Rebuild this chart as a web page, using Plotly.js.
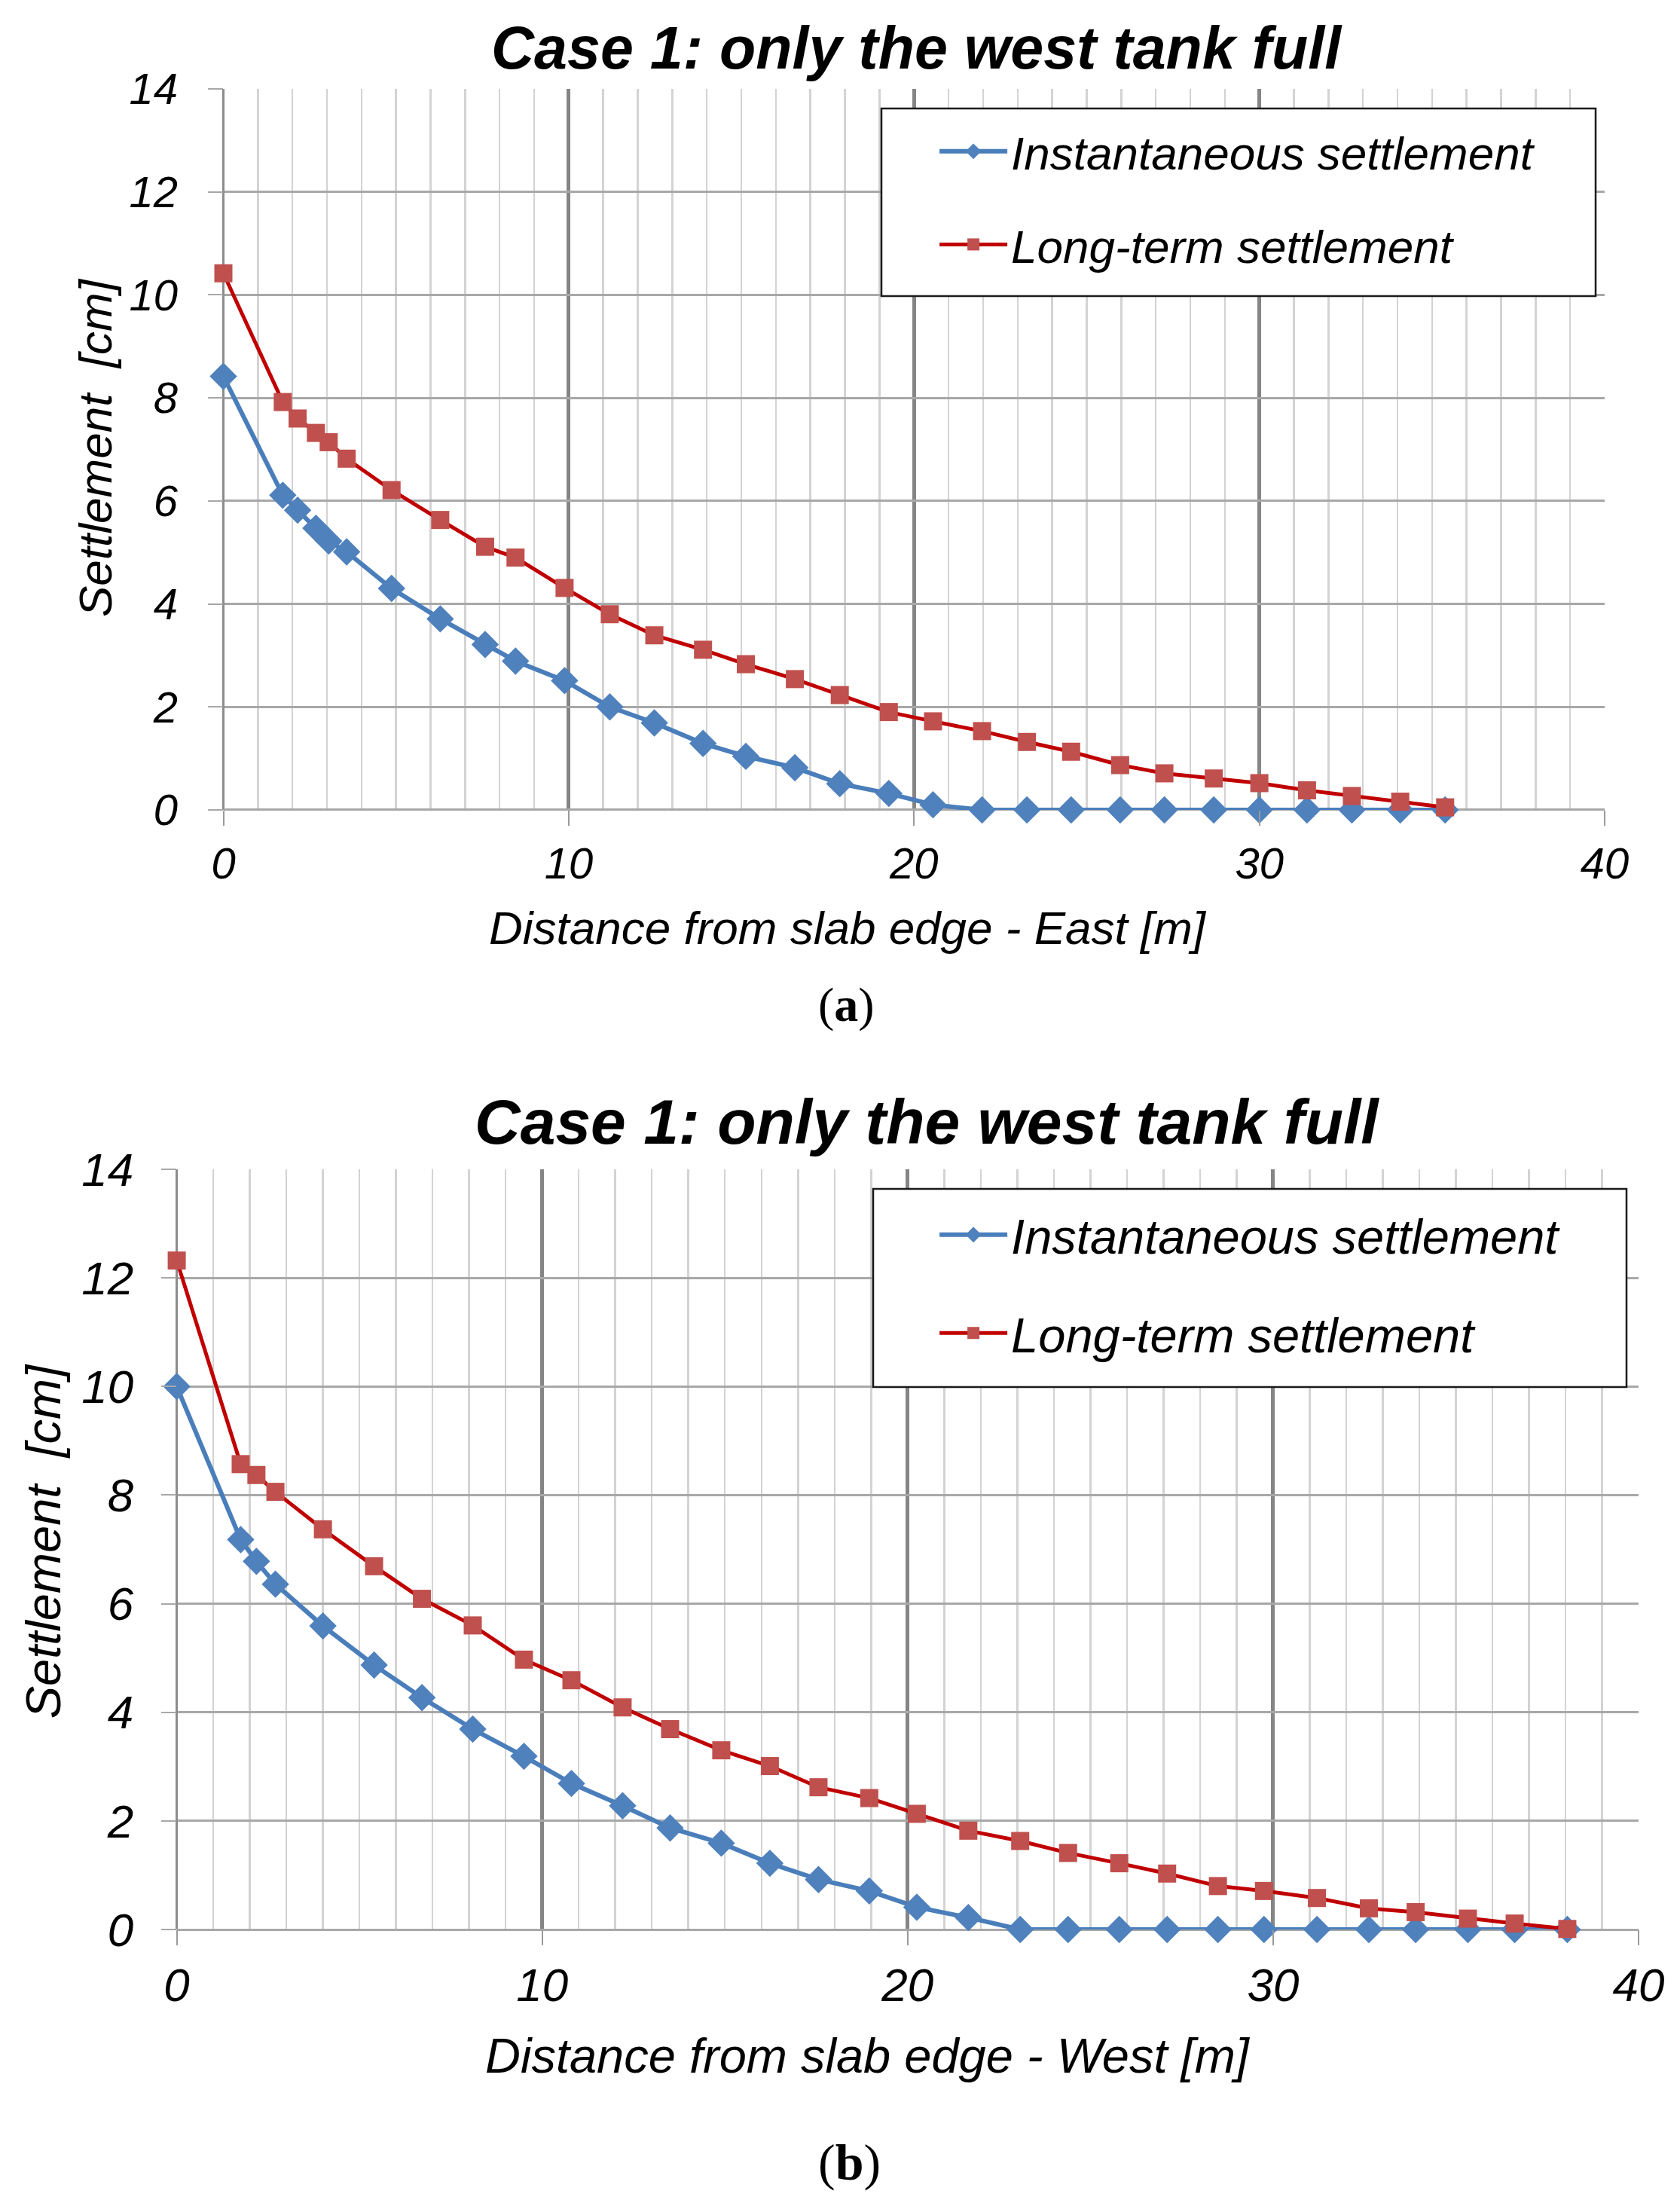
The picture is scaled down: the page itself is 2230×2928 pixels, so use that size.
<!DOCTYPE html>
<html>
<head>
<meta charset="utf-8">
<script src="https://cdn.plot.ly/plotly-3.0.1.min.js"></script>
<style>html,body{margin:0;padding:0;background:#fff;}#chart{width:2230px;height:2928px;}</style>
</head>
<body>
<div id="chart"></div>
<script>
// ---- Data ----
const seriesNames = ['Instantaneous settlement', 'Long-term settlement'];
const titleTop = 'Case 1: only the west tank full';
const titleBot = 'Case 1: only the west tank full';
const xTitleTop = 'Distance from slab edge - East [m]';
const xTitleBot = 'Distance from slab edge - West [m]';
const yTitle = 'Settlement  [cm]';

const xTop = [0, 1.72, 2.15, 2.68, 3.05, 3.57, 4.87, 6.28, 7.58, 8.46, 9.88, 11.19, 12.48, 13.89, 15.13, 16.55, 17.85, 19.27, 20.55, 21.97, 23.27, 24.55, 25.97, 27.25, 28.68, 30.0, 31.38, 32.68, 34.08, 35.38];
const instTop = [8.42, 6.11, 5.82, 5.47, 5.22, 5.01, 4.30, 3.71, 3.21, 2.89, 2.51, 2.00, 1.69, 1.29, 1.04, 0.82, 0.51, 0.32, 0.10, 0, 0, 0, 0, 0, 0, 0, 0, 0, 0, 0];
const longTop = [10.42, 7.92, 7.60, 7.32, 7.14, 6.82, 6.21, 5.63, 5.11, 4.90, 4.31, 3.80, 3.39, 3.11, 2.83, 2.54, 2.23, 1.90, 1.72, 1.53, 1.32, 1.13, 0.87, 0.71, 0.61, 0.52, 0.38, 0.27, 0.16, 0.05];

const xBot = [0, 1.75, 2.18, 2.70, 4.00, 5.40, 6.71, 8.10, 9.50, 10.80, 12.20, 13.50, 14.90, 16.23, 17.56, 18.95, 20.25, 21.66, 23.08, 24.39, 25.79, 27.10, 28.49, 29.75, 31.20, 32.62, 33.90, 35.33, 36.61, 38.05];
const instBot = [10.0, 7.18, 6.78, 6.36, 5.59, 4.87, 4.27, 3.69, 3.19, 2.69, 2.28, 1.87, 1.59, 1.22, 0.92, 0.71, 0.41, 0.22, 0, 0, 0, 0, 0, 0, 0, 0, 0, 0, 0, 0];
const longBot = [12.32, 8.57, 8.37, 8.06, 7.37, 6.69, 6.09, 5.60, 4.97, 4.59, 4.09, 3.69, 3.30, 3.01, 2.62, 2.42, 2.13, 1.82, 1.63, 1.41, 1.22, 1.03, 0.80, 0.71, 0.58, 0.39, 0.32, 0.20, 0.11, 0.01];

// ---- Styles ----
const FONT = 'Liberation Sans, Arial, sans-serif';
const BLUE_LINE = '#4a7ebb', BLUE_MK = '#4f81bd';
const RED_LINE = '#c00000', RED_MK = '#c0504d';

function blueTrace(x, y, xa, ya, lg) {
  return {x: x, y: y, xaxis: xa, yaxis: ya, legend: lg, name: seriesNames[0], legendgroup: 'a' + lg,
    type: 'scatter', mode: 'lines+markers', cliponaxis: false,
    line: {color: BLUE_LINE, width: 6},
    marker: {symbol: 'diamond', size: 28, color: BLUE_MK, line: {width: 0}}};
}
function redTrace(x, y, xa, ya, lg) {
  return {x: x, y: y, xaxis: xa, yaxis: ya, legend: lg, name: seriesNames[1], legendgroup: 'b' + lg,
    type: 'scatter', mode: 'lines+markers', cliponaxis: false,
    line: {color: RED_LINE, width: 5},
    marker: {symbol: 'square', size: 24, color: RED_MK, line: {width: 0}}};
}

const data = [
  blueTrace(xTop, instTop, 'x', 'y', 'legend'),
  redTrace(xTop, longTop, 'x', 'y', 'legend'),
  blueTrace(xBot, instBot, 'x2', 'y2', 'legend2'),
  redTrace(xBot, longBot, 'x2', 'y2', 'legend2')
];

function xAxis(domain, anchor, fs) {
  return {domain: domain, anchor: anchor, range: [0, 40], dtick: 10, tick0: 0,
    showgrid: true, gridcolor: '#858585', gridwidth: 5,
    minor: {dtick: 1, showgrid: true, gridcolor: '#d3d3d3', gridwidth: 2.5, ticks: ''},
    zeroline: true, zerolinecolor: '#8c8c8c', zerolinewidth: 2.5,
    showline: false, ticks: 'outside', ticklen: 20, tickwidth: 2, tickcolor: '#9a9a9a',
    tickfont: {family: FONT, size: fs, color: '#000', style: 'italic'}, fixedrange: true};
}
function yAxis(domain, anchor, fs, standoff) {
  return {domain: domain, anchor: anchor, range: [0, 14], dtick: 2, tick0: 0,
    showgrid: true, gridcolor: '#a8a8a8', gridwidth: 3,
    zeroline: true, zerolinecolor: '#a8a8a8', zerolinewidth: 3,
    showline: false, ticks: 'outside', ticklen: 20, tickwidth: 2, tickcolor: '#a8a8a8',
    ticklabelstandoff: standoff,
    tickfont: {family: FONT, size: fs, color: '#000', style: 'italic'}, fixedrange: true};
}

function ann(text, x, y, size, opts) {
  return Object.assign({text: text, x: x, y: y, xref: 'paper', yref: 'paper', showarrow: false,
    xanchor: 'center', yanchor: 'middle',
    font: {family: FONT, size: size, color: '#000', style: 'italic'}}, opts || {});
}
function legendBox(x0, y0, x1, y1) {
  return {type: 'rect', xref: 'paper', yref: 'paper', x0: x0, y0: y0, x1: x1, y1: y1,
    layer: 'above', fillcolor: '#ffffff', line: {color: '#1a1a1a', width: 2.5}};
}

const layout = {
  width: 2230, height: 2928,
  margin: {l: 0, r: 0, t: 0, b: 0},
  paper_bgcolor: '#ffffff', plot_bgcolor: '#ffffff',
  showlegend: true,
  xaxis: xAxis([0.13296, 0.95516], 'y', 58),
  yaxis: yAxis([0.63286, 0.95970], 'x', 58, 28),
  xaxis2: xAxis([0.10520, 0.97534], 'y2', 62),
  yaxis2: yAxis([0.12534, 0.46995], 'x2', 62, 24),
  legend: {x: 0.5570, y: 0.94740, xanchor: 'left', yanchor: 'top', bgcolor: 'rgba(0,0,0,0)',
    borderwidth: 0, itemwidth: 90, tracegroupgap: 40, traceorder: 'grouped',
    font: {family: FONT, size: 62, color: '#000', style: 'italic'}},
  legend2: {x: 0.5570, y: 0.45697, xanchor: 'left', yanchor: 'top', bgcolor: 'rgba(0,0,0,0)',
    borderwidth: 0, itemwidth: 90, tracegroupgap: 43, traceorder: 'grouped',
    font: {family: FONT, size: 65, color: '#000', style: 'italic'}},
  shapes: [
    legendBox(1170 / 2230, 1 - 393 / 2928, 2118 / 2230, 1 - 144 / 2928),
    legendBox(1159 / 2230, 1 - 1841 / 2928, 2159 / 2230, 1 - 1578 / 2928)
  ],
  annotations: [
    ann(titleTop, 0.5457, 0.97848, 79, {font: {family: FONT, size: 79, color: '#000', style: 'italic', weight: 'bold'}}),
    ann(titleBot, 0.5516, 0.49146, 84, {font: {family: FONT, size: 84, color: '#000', style: 'italic', weight: 'bold'}}),
    ann(yTitle, 0.0565, 0.79713, 62, {textangle: -90}),
    ann(yTitle, 0.0256, 0.30150, 65, {textangle: -90}),
    ann(xTitleTop, 0.5045, 0.5795, 62),
    ann(xTitleBot, 0.5166, 0.06800, 65),
    ann('(<b>a</b>)', 0.5040, 0.54440, 64, {font: {family: 'Liberation Serif, Times New Roman, serif', size: 64, color: '#000'}}),
    ann('(<b>b</b>)', 0.5058, 0.01981, 68, {font: {family: 'Liberation Serif, Times New Roman, serif', size: 68, color: '#000'}})
  ]
};

Plotly.newPlot('chart', data, layout, {displayModeBar: false, staticPlot: true});
</script>
</body>
</html>
